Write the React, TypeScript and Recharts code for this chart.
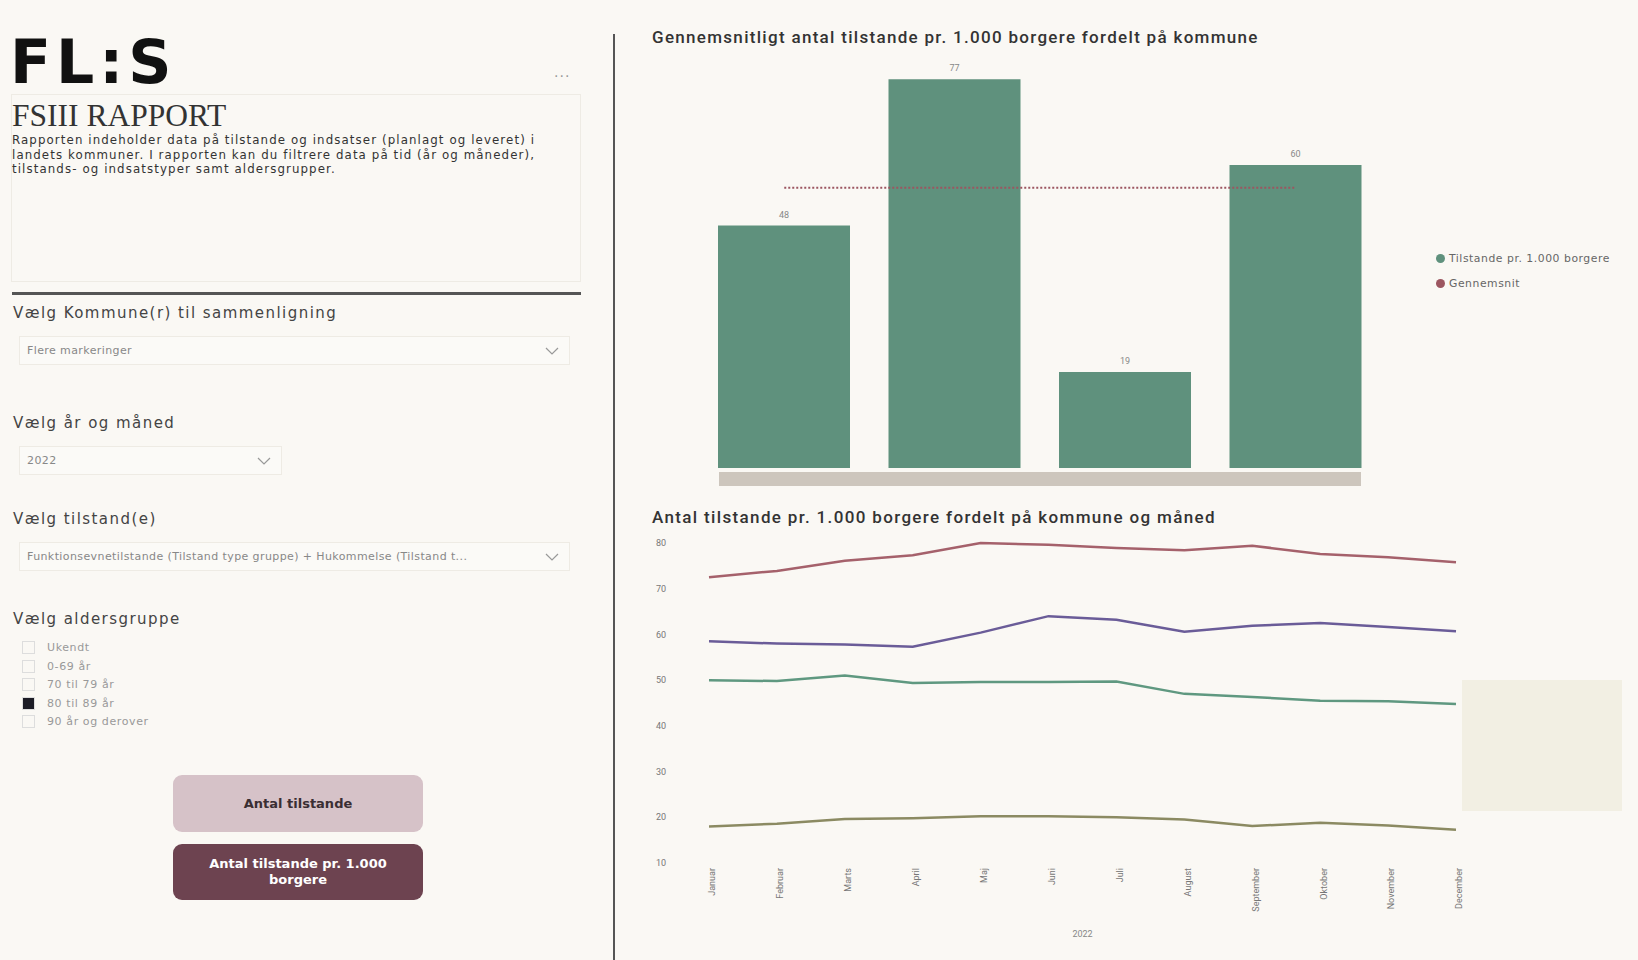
import { ComposedChart, LineChart, Bar, Line, XAxis, YAxis, LabelList, Legend, Label } from 'recharts';

const kommuner = ['Kommune A', 'Kommune B', 'Kommune C', 'Kommune D'];
const tilstandePrTusind = [48, 77, 19, 60];
const gennemsnit = [55.5, 55.5, 55.5, 55.5];

const maaneder = ['Januar', 'Februar', 'Marts', 'April', 'Maj', 'Juni', 'Juli', 'August', 'September', 'Oktober', 'November', 'December'];
const serieRoed = [72.5, 73.9, 76.1, 77.3, 80.0, 79.6, 78.9, 78.4, 79.4, 77.6, 76.9, 75.8];
const serieLilla = [58.5, 58.0, 57.8, 57.3, 60.4, 64.0, 63.2, 60.6, 61.9, 62.5, 61.6, 60.7];
const serieGroen = [50.0, 49.8, 51.0, 49.4, 49.6, 49.6, 49.7, 47.0, 46.3, 45.5, 45.4, 44.8];
const serieOliven = [18.0, 18.6, 19.6, 19.8, 20.2, 20.2, 20.0, 19.5, 18.1, 18.8, 18.2, 17.3];
const yTicks = [10, 20, 30, 40, 50, 60, 70, 80];

const aldersgrupper = ['Ukendt', '0-69 år', '70 til 79 år', '80 til 89 år', '90 år og derover'];
const valgtAlder = '80 til 89 år';

const legendOrder = ['Tilstande pr. 1.000 borgere', 'Gennemsnit'];

const GREEN = '#5f917d';
const MAROON = '#9c5660';
const BG = '#faf8f4';

const barData = kommuner.map((k, i) => ({ kommune: k, tilstande: tilstandePrTusind[i], gennemsnit: gennemsnit[i] }));
const lineData = maaneder.map((m, i) => ({ maaned: m, a: serieRoed[i], b: serieLilla[i], c: serieGroen[i], d: serieOliven[i] }));

const leftFont = '"DejaVu Sans", Verdana, sans-serif';
const titleFont = 'Roboto, "Noto Sans", sans-serif';

function BarLegend(props: any) {
  const items = [...(props.payload || [])].sort((p: any, q: any) => legendOrder.indexOf(p.value) - legendOrder.indexOf(q.value));
  return (
    <div style={{ fontFamily: leftFont, fontSize: 10.8, letterSpacing: 0.55, color: '#666' }}>
      {items.map((it: any) => (
        <div key={it.value} style={{ display: 'flex', alignItems: 'center', height: 25 }}>
          <span style={{ width: 9, height: 9, borderRadius: 5, background: it.color, marginRight: 4 }} />
          {it.value}
        </div>
      ))}
    </div>
  );
}

function Slicer({ top, label }: { top: number; label: string }) {
  return (
    <div style={{ position: 'absolute', left: 13, top, fontFamily: leftFont, fontSize: 15, color: '#444', letterSpacing: 1.45 }}>
      {label}
    </div>
  );
}

function Dropdown({ top, width, text }: { top: number; width: number; text: string }) {
  return (
    <div style={{
      position: 'absolute', left: 19, top, width, height: 29, boxSizing: 'border-box',
      border: '1px solid #eeebe4', background: '#fbfaf7', fontFamily: leftFont, fontSize: 11, letterSpacing: 0.4, color: '#888',
      display: 'flex', alignItems: 'center', paddingLeft: 7, paddingRight: 10, justifyContent: 'space-between'
    }}>
      <span style={{ whiteSpace: 'nowrap', overflow: 'hidden' }}>{text}</span>
      <svg width={14} height={8}><polyline points="1,1 7,7 13,1" fill="none" stroke="#999" strokeWidth={1.2} /></svg>
    </div>
  );
}

export default function App() {
  return (
    <div style={{ position: 'absolute', left: 0, top: 0, width: 1638, height: 960, background: BG, overflow: 'hidden' }}>
      {/* venstre panel */}
      <div style={{ position: 'absolute', left: 10, top: 27, fontFamily: '"DejaVu Sans", sans-serif', fontWeight: 700, fontSize: 60, letterSpacing: 5, color: '#111', lineHeight: '70px' }}>
        FL:S
      </div>
      <div style={{ position: 'absolute', left: 554, top: 64, fontSize: 14, color: '#999', fontFamily: leftFont, letterSpacing: 1 }}>...</div>
      <div style={{ position: 'absolute', left: 11, top: 94, width: 570, height: 188, border: '1px solid #eeebe4', boxSizing: 'border-box' }} />
      <div style={{ position: 'absolute', left: 12, top: 98, fontFamily: '"Liberation Serif", "DejaVu Serif", serif', fontSize: 31.5, color: '#333' }}>
        FSIII RAPPORT
      </div>
      <div style={{ position: 'absolute', left: 12, top: 133, width: 600, fontFamily: leftFont, fontSize: 11.8, letterSpacing: 1.1, lineHeight: '14.6px', color: '#333', whiteSpace: 'nowrap' }}>
        Rapporten indeholder data på tilstande og indsatser (planlagt og leveret) i<br />
        landets kommuner. I rapporten kan du filtrere data på tid (år og måneder),<br />
        tilstands- og indsatstyper samt aldersgrupper.
      </div>
      <div style={{ position: 'absolute', left: 12, top: 292, width: 569, height: 3, background: '#555' }} />

      <Slicer top={304} label="Vælg Kommune(r) til sammenligning" />
      <Dropdown top={336} width={551} text="Flere markeringer" />
      <Slicer top={414} label="Vælg år og måned" />
      <Dropdown top={446} width={263} text="2022" />
      <Slicer top={510} label="Vælg tilstand(e)" />
      <Dropdown top={542} width={551} text="Funktionsevnetilstande (Tilstand type gruppe) + Hukommelse (Tilstand t..." />
      <Slicer top={610} label="Vælg aldersgruppe" />
      {aldersgrupper.map((a, i) => (
        <div key={a} style={{ position: 'absolute', left: 22, top: 641 + i * 18.6, display: 'flex', alignItems: 'center', fontFamily: leftFont, fontSize: 11, letterSpacing: 0.6, color: '#999' }}>
          <span style={{ width: 13, height: 13, boxSizing: 'border-box', border: '1px solid #ddd', background: a === valgtAlder ? '#1c1c26' : 'transparent', marginRight: 12 }} />
          {a}
        </div>
      ))}

      <div style={{ position: 'absolute', left: 173, top: 775, width: 250, height: 57, borderRadius: 9, background: '#d6c2c8', display: 'flex', alignItems: 'center', justifyContent: 'center', fontFamily: leftFont, fontWeight: 700, fontSize: 13, color: '#3a2e33' }}>
        Antal tilstande
      </div>
      <div style={{ position: 'absolute', left: 173, top: 844, width: 250, height: 56, borderRadius: 9, background: '#6d4350', display: 'flex', alignItems: 'center', justifyContent: 'center', textAlign: 'center', fontFamily: leftFont, fontWeight: 700, fontSize: 13, lineHeight: '16px', color: '#fff' }}>
        Antal tilstande pr. 1.000<br />borgere
      </div>

      <div style={{ position: 'absolute', left: 613, top: 34, width: 2, height: 926, background: '#555' }} />

      {/* søjlediagram */}
      <div style={{ position: 'absolute', left: 652, top: 27, fontFamily: titleFont, fontWeight: 500, fontSize: 17, letterSpacing: 1.3, color: '#333', whiteSpace: 'nowrap' }}>
        Gennemsnitligt antal tilstande pr. 1.000 borgere fordelt på kommune
      </div>
      <div style={{ position: 'absolute', left: 719, top: 472, width: 642, height: 14, background: '#cdc6bd' }} />
      <div style={{ position: 'absolute', left: 640, top: 50 }}>
        <ComposedChart width={998} height={440} data={barData} margin={{ top: 14, right: 257, bottom: 22, left: 59 }} style={{ fontFamily: titleFont }}>
          <XAxis dataKey="kommune" hide />
          <YAxis hide domain={[0, 80]} />
          <Legend layout="horizontal" verticalAlign="middle" align="center" content={BarLegend} wrapperStyle={{ left: 796, top: 196, width: 230 }} />
          <Bar dataKey="tilstande" name="Tilstande pr. 1.000 borgere" fill={GREEN} barSize={132} isAnimationActive={false}>
            <LabelList dataKey="tilstande" position="top" offset={8} fontSize={9} fill="#888" />
          </Bar>
          <Line dataKey="gennemsnit" name="Gennemsnit" stroke={MAROON} strokeWidth={2} strokeDasharray="2 2" dot={false} type="linear" isAnimationActive={false} />
        </ComposedChart>
      </div>

      {/* linjediagram */}
      <div style={{ position: 'absolute', left: 652, top: 507, fontFamily: titleFont, fontWeight: 500, fontSize: 17, letterSpacing: 1.35, color: '#333', whiteSpace: 'nowrap' }}>
        Antal tilstande pr. 1.000 borgere fordelt på kommune og måned
      </div>
      <div style={{ position: 'absolute', left: 1462, top: 680, width: 160, height: 131, background: '#f2efe3' }} />
      <div style={{ position: 'absolute', left: 640, top: 530 }}>
        <LineChart width={840} height={430} data={lineData} margin={{ top: 13, right: 24, bottom: 20, left: 0 }} style={{ fontFamily: titleFont }}>
          <XAxis dataKey="maaned" scale="point" padding={{ left: 0, right: 0 }} interval={0} height={77} axisLine={false} tickLine={false} tickSize={4} tickMargin={4}
            angle={-90} textAnchor="end" tick={{ fontSize: 9, fill: '#777', dy: -3 }}>
            <Label value="2022" position="insideBottom" offset={3} fontSize={9} fill="#888" />
          </XAxis>
          <YAxis domain={[10, 80]} ticks={yTicks} width={69} axisLine={false} tickLine={false} tickSize={0} tickMargin={43} tick={{ fontSize: 9, fill: '#777' }} />
          <Line dataKey="a" stroke="#a5616b" strokeWidth={2.5} dot={false} type="linear" isAnimationActive={false} />
          <Line dataKey="b" stroke="#6a5c98" strokeWidth={2.5} dot={false} type="linear" isAnimationActive={false} />
          <Line dataKey="c" stroke="#5f9880" strokeWidth={2.5} dot={false} type="linear" isAnimationActive={false} />
          <Line dataKey="d" stroke="#8b8a62" strokeWidth={2.5} dot={false} type="linear" isAnimationActive={false} />
        </LineChart>
      </div>
    </div>
  );
}
